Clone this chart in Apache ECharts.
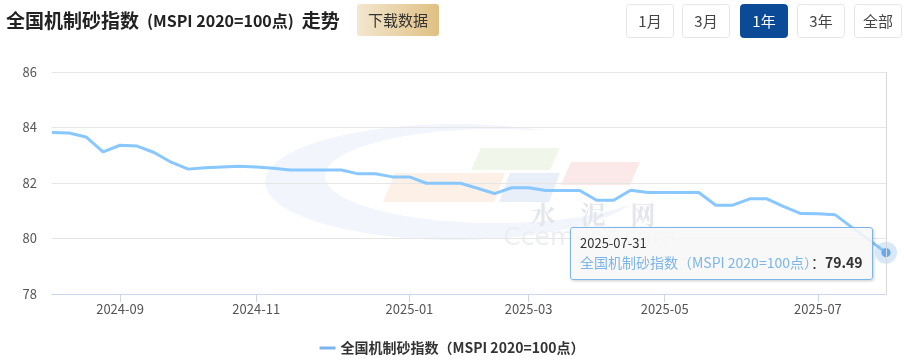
<!DOCTYPE html>
<html>
<head>
<meta charset="utf-8">
<script src="https://cdn.jsdelivr.net/npm/echarts@6/dist/echarts.min.js"></script>
<style>
html,body{margin:0;padding:0;background:#fff;}
#main{width:904px;height:360px;}
</style>
</head>
<body>
<div id="main"></div>
<script>
// ---- data ----
const dates = [
  '2024-08-08','2024-08-15','2024-08-22','2024-08-29',
  '2024-09-05','2024-09-12','2024-09-19','2024-09-26',
  '2024-10-10','2024-10-17','2024-10-24','2024-10-31',
  '2024-11-07','2024-11-14','2024-11-21','2024-11-28',
  '2024-12-05','2024-12-12','2024-12-19','2024-12-26','2024-12-31',
  '2025-01-09','2025-01-16','2025-01-23',
  '2025-02-06','2025-02-13','2025-02-20','2025-02-27',
  '2025-03-06','2025-03-13','2025-03-20','2025-03-27',
  '2025-04-03','2025-04-10','2025-04-17','2025-04-24',
  '2025-05-01','2025-05-08','2025-05-15','2025-05-22','2025-05-29',
  '2025-06-05','2025-06-12','2025-06-19','2025-06-26',
  '2025-07-03','2025-07-10','2025-07-17','2025-07-24','2025-07-31'
];
const values = [
  83.82, 83.80, 83.66, 83.12,
  83.36, 83.33, 83.10, 82.75,
  82.50, 82.55, 82.58, 82.60,
  82.58, 82.53, 82.47, 82.47,
  82.47, 82.47, 82.33, 82.33, 82.22,
  82.22, 81.99, 81.99,
  81.99, 81.81, 81.62, 81.83,
  81.83, 81.73, 81.73, 81.73,
  81.38, 81.38, 81.74, 81.66,
  81.66, 81.66, 81.66, 81.20, 81.20,
  81.43, 81.43, 81.15, 80.90,
  80.89, 80.86, 80.40, 79.95, 79.49
];
const tickMonths = ['2024-09','2024-11','2025-01','2025-03','2025-05','2025-07'];
const yTicks = { min: 78, max: 86, interval: 2 };
const seriesName = '全国机制砂指数（MSPI 2020=100点）';
const titleParts = ['全国机制砂指数', '(MSPI 2020=100点)', '走势'];
const rangeButtons = ['1月', '3月', '1年', '3年', '全部'];
const activeButton = '1年';
const downloadLabel = '下载数据';
const watermarkCn = ['水', '泥', '网'];
const watermarkEn = 'Ccement.com';

// ---- derived ----
const tickIdx = new Set();
tickMonths.forEach(m => {
  const i = dates.findIndex(d => d.slice(0, 7) === m);
  if (i >= 0) tickIdx.add(i);
});
const lastIdx = values.length - 1;
const FONT = '"Noto Sans CJK SC", "Noto Sans", sans-serif';
const CSSFONT = "'Noto Sans CJK SC','Noto Sans',sans-serif";
const LINE = '#7cb5ec';

const chart = echarts.init(document.getElementById('main'), null, { renderer: 'canvas' });

const graphics = [];
// watermark
const wm = [
  { type: 'ellipse', shape: { cx: 455, cy: 182, rx: 190, ry: 58 }, style: { fill: '#f2f6fc' }, z: -10 },
  { type: 'ellipse', shape: { cx: 495, cy: 176, rx: 170, ry: 47 }, style: { fill: '#ffffff' }, z: -9 },
  { type: 'polygon', shape: { points: [[481,148],[560,148],[550,170],[471,170]] }, style: { fill: '#f1f6ea' }, z: -8 },
  { type: 'polygon', shape: { points: [[395,173],[505,173],[494,202],[383,202]] }, style: { fill: '#fdf1e7' }, z: -8 },
  { type: 'polygon', shape: { points: [[510,173],[560,173],[549,202],[499,202]] }, style: { fill: '#e9eff8' }, z: -8 },
  { type: 'polygon', shape: { points: [[571,162],[640,162],[630,185],[561,185]] }, style: { fill: '#fbe9e9' }, z: -8 },
  { type: 'text', style: { text: watermarkEn, x: 590, y: 238, fill: '#eceef2', font: '25px "DejaVu Sans", sans-serif', align: 'center', verticalAlign: 'middle' }, z: -8 }
];
watermarkCn.forEach((c, i) => {
  wm.push({ type: 'text', style: { text: c, x: 543 + i * 50, y: 214, fill: '#e3e6eb', font: 'bold 25px "Noto Serif CJK SC", "Noto Sans CJK SC", serif', align: 'center', verticalAlign: 'middle' }, z: -8 });
});
graphics.push({ type: 'group', silent: true, z: -10, children: wm });
// title
graphics.push({
  type: 'text', left: 6, top: 11,
  style: {
    text: '{a|' + titleParts[0] + '}{s| }{b|' + titleParts[1] + '}{s| }{a|' + titleParts[2] + '}',
    rich: {
      a: { fontSize: 19, fontWeight: 'bold', fill: '#222', fontFamily: FONT },
      b: { fontSize: 16, fontWeight: 'bold', fill: '#222', fontFamily: FONT },
      s: { fontSize: 19, width: 8 }
    }
  }
});
// download button
graphics.push({
  type: 'group', left: 357, top: 4,
  children: [
    { type: 'rect', shape: { x: 0, y: 0, width: 82, height: 32, r: 3 },
      style: { fill: new echarts.graphic.LinearGradient(0, 0, 1, 0, [{ offset: 0, color: '#f3e7cf' }, { offset: 1, color: '#e0c082' }]) } },
    { type: 'text', style: { text: downloadLabel, x: 41, y: 16, align: 'center', verticalAlign: 'middle', font: '15px ' + FONT, fill: '#333' } }
  ]
});
// range buttons
const btnX = [626, 682, 740, 797, 854];
rangeButtons.forEach((b, i) => {
  const act = b === activeButton;
  graphics.push({
    type: 'group', left: btnX[i], top: 4,
    children: [
      { type: 'rect', shape: { x: 0.5, y: 0.5, width: 47, height: 33, r: 3 },
        style: { fill: act ? '#0b4a96' : '#fff', stroke: act ? '#0b4a96' : '#e6e6e6', lineWidth: 1 } },
      { type: 'text', style: { text: b, x: 24, y: 17.5, align: 'center', verticalAlign: 'middle', font: '15px ' + FONT, fill: act ? '#fff' : '#444' } }
    ]
  });
});

chart.setOption({
  animation: false,
  textStyle: { fontFamily: FONT },
  graphic: graphics,
  grid: { left: 52, right: 18, top: 72, bottom: 66, containLabel: false },
  legend: {
    bottom: 0, left: 'center',
    itemWidth: 16, itemHeight: 3, itemGap: 10,
    icon: 'rect',
    textStyle: { fontSize: 14, fontWeight: 'bold', color: '#333', fontFamily: FONT },
    data: [seriesName]
  },
  tooltip: {
    trigger: 'axis',
    alwaysShowContent: true,
    backgroundColor: 'rgba(247,247,247,0.88)',
    borderColor: LINE,
    borderWidth: 1,
    padding: [6, 9, 7, 9],
    extraCssText: 'box-shadow:1px 1px 3px rgba(0,0,0,0.2);border-radius:3px;',
    axisPointer: { type: 'line', lineStyle: { color: '#d8d8d8', width: 1, type: 'solid' } },
    position: function (point, params, dom, rect, size) {
      return [point[0] - size.contentSize[0] - 13, point[1] - 26];
    },
    formatter: function (params) {
      const p = params[0];
      return '<div style="font-size:13px;color:#333;line-height:18px;font-family:' + CSSFONT + '">' + p.axisValue + '</div>' +
        '<div style="font-size:14px;line-height:20px;font-family:' + CSSFONT + '"><span style="color:' + LINE + '">' + p.seriesName + '</span><span style="color:#333">：</span><b style="color:#333">' + p.value.toFixed(2) + '</b></div>';
    }
  },
  xAxis: {
    type: 'category',
    data: dates,
    boundaryGap: false,
    axisLine: { lineStyle: { color: '#ccd6eb' } },
    axisTick: { show: true, length: 8, lineStyle: { color: '#ccd6eb' }, interval: (i) => tickIdx.has(i) },
    axisLabel: {
      interval: (i) => tickIdx.has(i),
      formatter: (v) => v.slice(0, 7),
      color: '#555', fontSize: 13, margin: 9, fontFamily: FONT
    },
    splitLine: { show: false }
  },
  yAxis: {
    type: 'value',
    min: yTicks.min, max: yTicks.max, interval: yTicks.interval,
    axisLine: { show: false },
    axisTick: { show: false },
    axisLabel: { color: '#555', fontSize: 13, margin: 15, fontFamily: FONT },
    splitLine: { lineStyle: { color: '#e6e6e6' } }
  },
  series: [{
    name: seriesName,
    type: 'line',
    data: values,
    showSymbol: false,
    symbol: 'circle',
    symbolSize: 9,
    lineStyle: { color: LINE, width: 3 },
    itemStyle: { color: LINE },
    emphasis: {
      scale: false,
      itemStyle: { color: LINE, borderWidth: 0 }
    },
    markPoint: {
      silent: true,
      symbol: 'circle',
      label: { show: false },
      data: [
        { coord: [lastIdx, values[lastIdx]], symbolSize: 22, itemStyle: { color: 'rgba(124,181,236,0.3)', borderWidth: 0 } },
        { coord: [lastIdx, values[lastIdx]], symbolSize: 9, itemStyle: { color: '#6aaaea', borderWidth: 0 } }
      ]
    },
    z: 3
  }]
});

chart.dispatchAction({ type: 'showTip', seriesIndex: 0, dataIndex: lastIdx });
</script>
</body>
</html>
